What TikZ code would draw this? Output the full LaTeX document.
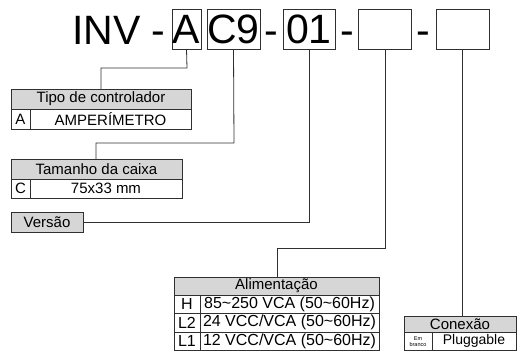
\documentclass[tikz,border=0pt]{standalone}
\usepackage{fontspec}
\setmainfont{Liberation Sans}
\definecolor{ln}{HTML}{303030}
\definecolor{hd}{HTML}{D6D6D6}
\begin{document}
\begin{tikzpicture}[x=1pt,y=-1pt,
  every node/.style={inner sep=0pt,outer sep=0pt},
  code/.style={draw=ln,line width=0.9pt,minimum height=40pt,font=\fontsize{41}{41}\selectfont},
  big/.style={font=\fontsize{41}{41}\selectfont},
  hdr/.style={draw=ln,line width=0.9pt,fill=hd,font=\fontsize{15}{15}\selectfont},
  cell/.style={draw=ln,line width=0.9pt,fill=white,font=\fontsize{15}{15}\selectfont},
  acell/.style={cell,font=\fontsize{16}{16}\selectfont},
  conn/.style={draw=ln,line width=0.8pt}]
\useasboundingbox (0,0) rectangle (517,351);
% top code
\node[big,anchor=base west] (inv) at (72,44) {INV -};
\node[code,minimum width=29pt] (bA) at (186.5,29) {A};
\node[code,minimum width=53pt] (bC) at (233.5,29) {C9};
\node[big,anchor=base] (d1) at (271.5,44) {-};
\node[code,minimum width=52pt] (b01) at (309,29) {01};
\node[big,anchor=base] (d2) at (347,44) {-};
\node[code,minimum width=53pt] (b4) at (384.5,29) {};
\node[big,anchor=base] (d3) at (423.5,44) {-};
\node[code,minimum width=53pt] (b5) at (462.5,29) {};
% Tipo de controlador
\node[hdr,minimum width=180pt,minimum height=20pt] (tipo) at (101,99) {Tipo de controlador};
\node[cell,minimum width=19pt,minimum height=20pt] (tipoK) at (20.5,119) {A};
\node[cell,minimum width=161pt,minimum height=20pt] (tipoV) at (110.5,119) {AMPERÍMETRO};
% Tamanho da caixa
\node[hdr,minimum width=171pt,minimum height=20pt] (tam) at (96.5,169) {Tamanho da caixa};
\node[cell,minimum width=19pt,minimum height=19pt] (tamK) at (20.5,188.5) {C};
\node[cell,minimum width=152pt,minimum height=19pt] (tamV) at (106,188.5) {75x33 mm};
% Versao
\node[hdr,minimum width=72pt,minimum height=20pt] (ver) at (47,222) {Versão};
% Alimentacao
\node[hdr,minimum width=205pt,minimum height=18pt] (ali) at (276.5,286) {Alimentação};
\node[acell,minimum width=26pt,minimum height=18.5pt] (aK1) at (187,304.25) {H};
\node[acell,minimum width=179pt,minimum height=18.5pt] (aV1) at (289.5,304.25) {85\char`~250 VCA (50\char`~60Hz)};
\node[acell,minimum width=26pt,minimum height=18.5pt] (aK2) at (187,322.75) {L2};
\node[acell,minimum width=179pt,minimum height=18.5pt] (aV2) at (289.5,322.75) {24 VCC/VCA (50\char`~60Hz)};
\node[acell,minimum width=26pt,minimum height=18.5pt] (aK3) at (187,341.25) {L1};
\node[acell,minimum width=179pt,minimum height=18.5pt] (aV3) at (289.5,341.25) {12 VCC/VCA (50\char`~60Hz)};
% Conexao
\node[hdr,minimum width=112pt,minimum height=16pt] (con) at (460,324) {Conexão};
\node[cell,minimum width=28pt,minimum height=18.5pt,align=center,font=\fontsize{5.5}{6}\selectfont] (conK) at (418,341.25) {Em\\branco};
\node[cell,minimum width=84pt,minimum height=18.5pt,font=\fontsize{14}{14}\selectfont] (conV) at (474,341.25) {Pluggable};
% connectors
\draw[conn] (bA.south) -- (187,68) -| (tipo.north);
\draw[conn] (bC.south) -- (234,143) -| (tam.north -| 96,0);
\draw[conn] (b01.south) |- (ver.east);
\draw[conn] (b4.south -| 385,0) -- (385,248) -| (ali.north -| 277,0);
\draw[conn] (b5.south -| 462,0) -- (con.north -| 462,0);
\end{tikzpicture}
\end{document}
